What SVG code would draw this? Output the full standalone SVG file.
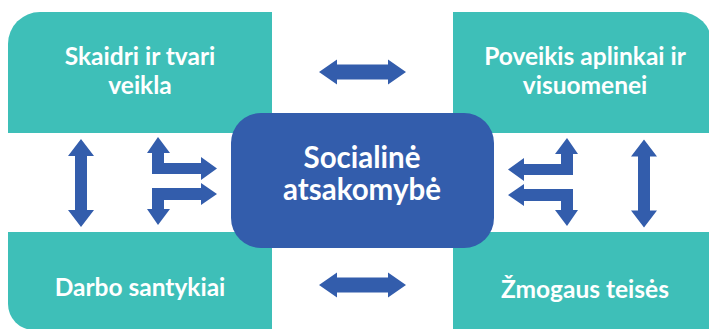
<svg xmlns="http://www.w3.org/2000/svg" xmlns:xlink="http://www.w3.org/1999/xlink" width="709" height="329" viewBox="0 0 709 329">
<style>
.box{fill:#3EBFB8}
.center{fill:#335DAC}
.arr{fill:#335DAC}
.t{fill:#fff;font-family:Lato,"Open Sans",sans-serif;font-weight:700;font-size:24.5px;text-anchor:middle}
.tc{fill:#fff;font-family:Lato,"Open Sans",sans-serif;font-weight:700;font-size:29.5px;text-anchor:middle}
</style>
<defs>
<polygon id="vArrow" class="arr" points="81,139 94,156 87,156 87,210 94,210 81,227 68,210 75,210 75,156 68,156"/>
<g id="branch">
<polygon class="arr" points="158,137 170,153 164,153 164,163 201,163 201,157 217,168.5 201,180 201,174 152,174 152,153 147,153"/>
<polygon class="arr" points="152,188 201,188 201,183 217,194 201,205 201,200 164,200 164,209 170,209 158,225 147,209 152,209"/>
</g>
</defs>
<g id="node-skaidri">
<path class="box" d="M8,44 A32,32 0 0 1 40,12 L272,12 L272,133 L8,133 Z"/>
<text class="t" x="140" y="65">Skaidri ir tvari</text>
<text class="t" x="140" y="94">veikla</text>
</g>
<g id="node-poveikis">
<path class="box" d="M453,12 L680,12 A32,32 0 0 1 712,44 L712,133 L453,133 Z"/>
<text class="t" x="585" y="65">Poveikis aplinkai ir</text>
<text class="t" x="585" y="94">visuomenei</text>
</g>
<g id="node-darbo">
<path class="box" d="M8,232 L272,232 L272,330 L34,330 A26,26 0 0 1 8,304 Z"/>
<text class="t" x="140" y="296">Darbo santykiai</text>
</g>
<g id="node-zmogaus">
<path class="box" d="M453,232 L712,232 L712,330 L453,330 Z"/>
<text class="t" x="585" y="298">Žmogaus teisės</text>
</g>
<g id="node-socialine">
<rect class="center" x="231" y="113" width="263" height="135" rx="30" ry="30"/>
<text class="tc" x="362" y="168">Socialinė</text>
<text class="tc" x="362" y="200">atsakomybė</text>
</g>
<g id="connectors">
<polygon class="arr" points="319,72 337,59.5 337,64.5 388,64.5 388,59.5 406,72 388,84.5 388,79.5 337,79.5 337,84.5"/>
<polygon class="arr" points="319,285 337,272.5 337,277.5 388,277.5 388,272.5 406,285 388,297.5 388,292.5 337,292.5 337,297.5"/>
<use xlink:href="#vArrow"/>
<use xlink:href="#vArrow" transform="translate(725,0.5) scale(-1,1)"/>
<use xlink:href="#branch"/>
<use xlink:href="#branch" transform="translate(725,1) scale(-1,1)"/>
</g>
</svg>
